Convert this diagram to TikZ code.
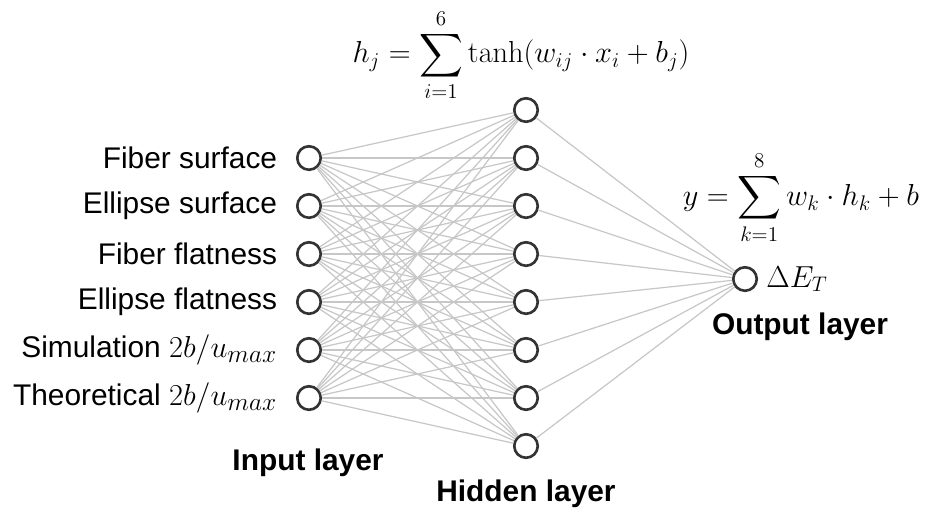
\documentclass[tikz,border=0pt]{standalone}
\usepackage{amsmath}
\usepackage[no-math]{fontspec}
\setmainfont{Liberation Sans}
\usetikzlibrary{positioning}

\newcommand{\bratio}{{\fontsize{19}{22}\selectfont$2b/u_{max}$}}

\begin{document}
\begin{tikzpicture}[x=0.02cm, y=-0.02cm,
  neuron/.style={circle, draw=black!80, line width=1.5pt, fill=white, minimum size=0.47cm, inner sep=0pt},
  link/.style={draw=black!22, line width=0.7pt},
  feat/.style={font=\fontsize{17}{20}\selectfont, anchor=east, inner sep=0pt},
  layer/.style={font=\fontsize{17}{20}\selectfont\bfseries, inner sep=0pt},
  eq/.style={font=\fontsize{18}{22}\selectfont, inner sep=0pt}]
  \useasboundingbox (0,0) rectangle (925,515);
  % input layer
  \foreach \i/\txt in {1/{Fiber surface}, 2/{Ellipse surface}, 3/{Fiber flatness},
      4/{Ellipse flatness}, 5/{Simulation \bratio}, 6/{Theoretical \bratio}} {
    \node[neuron] (I\i) at (309, {158+48*(\i-1)}) {};
    \node[feat, left=3.7mm of I\i] (t\i) {\txt};
  }
  % hidden layer
  \foreach \j in {1,...,8}
    \node[neuron] (H\j) at (526, {110+48*(\j-1)}) {};
  % output layer
  \node[neuron] (O) at (745, 279) {};
  \node[eq, right=1.6mm of O] (dE) {$\Delta E_T$};
  % connections
  \foreach \i in {1,...,6}
    \foreach \j in {1,...,8}
      \draw[link] (I\i) -- (H\j);
  \foreach \j in {1,...,8}
    \draw[link] (H\j) -- (O);
  % formulas
  \node[eq] (hj) at (521, 55) {$\displaystyle h_j=\sum_{i=1}^{6}\tanh(w_{ij}\cdot x_i+b_j)$};
  \node[eq] (yk) at (801, 198) {$\displaystyle y=\sum_{k=1}^{8}w_k\cdot h_k+b$};
  % layer names
  \node[layer] (lin) at (308, 463) {Input layer};
  \node[layer] (lhid) at (526, 494) {Hidden layer};
  \node[layer] (lout) at (800, 327) {Output layer};
\end{tikzpicture}
\end{document}
